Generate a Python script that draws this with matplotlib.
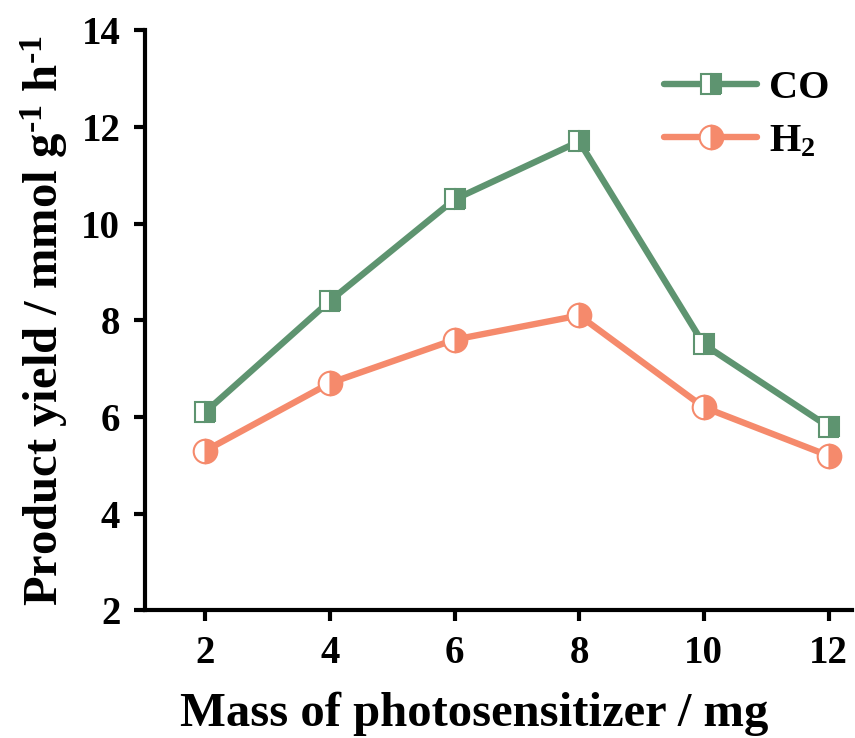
import matplotlib
matplotlib.use("Agg")
import matplotlib.pyplot as plt

# data
mass = [2, 4, 6, 8, 10, 12]
co_yield = [6.1, 8.4, 10.5, 11.7, 7.5, 5.8]
h2_yield = [5.3, 6.7, 7.6, 8.1, 6.2, 5.2]

plt.rcParams['font.family'] = 'Liberation Serif'
plt.rcParams['font.weight'] = 'bold'
plt.rcParams['mathtext.fontset'] = 'custom'
plt.rcParams['mathtext.rm'] = 'Liberation Serif:bold'
plt.rcParams['mathtext.bf'] = 'Liberation Serif:bold'
plt.rcParams['mathtext.default'] = 'bf'

green = '#5e9470'
orange = '#f58a6c'

fig = plt.figure(figsize=(8.55, 7.38), dpi=100)
ax = fig.add_axes([0.170, 0.173, 0.826, 0.786])

ax.plot(mass, co_yield, color=green, lw=4.6, marker='s', ms=14,
        fillstyle='right', markerfacecoloralt='white', mec=green, mew=1.5,
        solid_capstyle='round', label='CO')
ax.plot(mass, h2_yield, color=orange, lw=4.6, marker='o', ms=17,
        fillstyle='right', markerfacecoloralt='white', mec=orange, mew=1.5,
        solid_capstyle='round', label='H$_2$')

ax.set_xlim(1.04, 12.37)
ax.set_ylim(2, 14)
ax.set_xticks(mass)
ax.set_yticks([2, 4, 6, 8, 10, 12, 14])

for s in ['top', 'right']:
    ax.spines[s].set_visible(False)
for s in ['left', 'bottom']:
    ax.spines[s].set_linewidth(3)

ax.tick_params(direction='out', length=8, width=3, labelsize=28, pad=10)

ax.set_xlabel('Mass of photosensitizer / mg', fontsize=35, fontweight='bold')
ax.xaxis.set_label_coords(0.466, -0.14)
ax.set_ylabel('Product yield / mmol g$^{\\text{-}1}$ h$^{\\text{-}1}$', fontsize=35,
              fontweight='bold', labelpad=8)

ax.legend(loc='upper right', bbox_to_anchor=(1.02, 0.995), frameon=False,
          fontsize=29, handlelength=2.3, handletextpad=0.3, labelspacing=0.4)

fig.savefig('out.png', dpi=100)
